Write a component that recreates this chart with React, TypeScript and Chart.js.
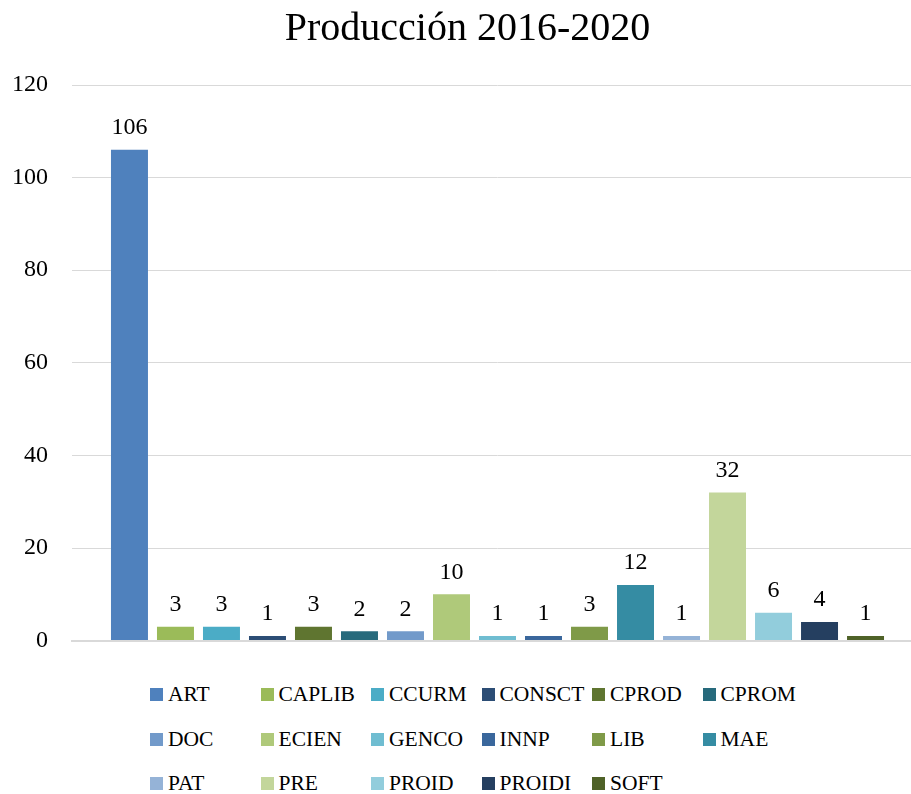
import React, { useEffect, useRef } from "react";
import { Chart, registerables } from "chart.js";

Chart.register(...registerables);

const categories = ["ART", "CAPLIB", "CCURM", "CONSCT", "CPROD", "CPROM", "DOC", "ECIEN", "GENCO", "INNP", "LIB", "MAE", "PAT", "PRE", "PROID", "PROIDI", "SOFT"];
const values = [106, 3, 3, 1, 3, 2, 2, 10, 1, 1, 3, 12, 1, 32, 6, 4, 1];
const colors = ["#4F81BD", "#9BBB59", "#4BACC6", "#2C4D75", "#5F7530", "#276A7C", "#729ACA", "#AFC97A", "#6FBDD1", "#3A679C", "#7F9A48", "#358CA3", "#95B3D7", "#C3D69B", "#92CDDC", "#253F60", "#4F6228"];
const yTicks = [0, 20, 40, 60, 80, 100, 120];
const title = "Producción 2016-2020";

const FONT = "'Liberation Serif', 'Times New Roman', serif";

const valueLabels = {
  id: "valueLabels",
  afterDatasetsDraw(chart: any) {
    const ctx = chart.ctx;
    ctx.save();
    ctx.font = `24px ${FONT}`;
    ctx.fillStyle = "#000";
    ctx.textAlign = "center";
    ctx.textBaseline = "bottom";
    chart.data.datasets.forEach((ds: any, i: number) => {
      const meta = chart.getDatasetMeta(i);
      meta.data.forEach((el: any, j: number) => {
        ctx.fillText(String(ds.data[j]), el.x, el.y - 10);
      });
    });
    ctx.restore();
  },
};

export default function App() {
  const ref = useRef<HTMLCanvasElement | null>(null);
  useEffect(() => {
    if (!ref.current) return;
    const chart = new Chart(ref.current, {
      type: "bar",
      data: {
        labels: [""],
        datasets: categories.map((c, i) => ({
          label: c,
          data: [values[i]],
          backgroundColor: colors[i],
          categoryPercentage: 0.919,
          barPercentage: 0.804,
        })),
      },
      options: {
        responsive: false,
        devicePixelRatio: 1,
        animation: false,
        layout: { padding: { left: 12, right: 1, top: 0, bottom: 8 } },
        plugins: {
          legend: { display: false },
          tooltip: { enabled: false },
          title: {
            display: true,
            text: title,
            color: "#000",
            font: { family: FONT, size: 40, weight: "normal" },
            padding: { top: 5, bottom: 32 },
          },
        },
        scales: {
          x: {
            grid: { display: false, drawTicks: false },
            ticks: { display: false },
            border: { color: "#D9D9D9", width: 2 },
          },
          y: {
            min: 0,
            max: 120,
            afterBuildTicks: (axis: any) => {
              axis.ticks = yTicks.map((v) => ({ value: v }));
            },
            afterFit: (axis: any) => {
              axis.width = 60;
            },
            grid: { color: "#D9D9D9", lineWidth: 1, drawTicks: false },
            border: { display: false },
            ticks: {
              color: "#000",
              padding: 24,
              font: { family: FONT, size: 24 },
            },
          },
        },
      },
      plugins: [valueLabels],
    });
    return () => chart.destroy();
  }, []);

  const colX = [150, 260.5, 371, 481.5, 592, 702.5];
  const rowY = [694, 739, 783];

  return (
    <div style={{ position: "fixed", left: 0, top: 0, width: 911, height: 794, overflow: "hidden", background: "#fff" }}>
      <canvas ref={ref} width={924} height={679} style={{ position: "absolute", left: 0, top: 0, width: 924, height: 679 }} />
      {categories.map((c, i) => {
        const col = i % 6;
        const row = Math.floor(i / 6);
        return (
          <div
            key={c}
            style={{
              position: "absolute",
              left: colX[col],
              top: rowY[row] - 15,
              height: 30,
              display: "flex",
              alignItems: "center",
              fontFamily: FONT,
              fontSize: 21.5,
              color: "#000",
              whiteSpace: "nowrap",
            }}
          >
            <span style={{ display: "inline-block", width: 13, height: 13, background: colors[i], marginRight: 5 }} />
            <span>{c}</span>
          </div>
        );
      })}
    </div>
  );
}
